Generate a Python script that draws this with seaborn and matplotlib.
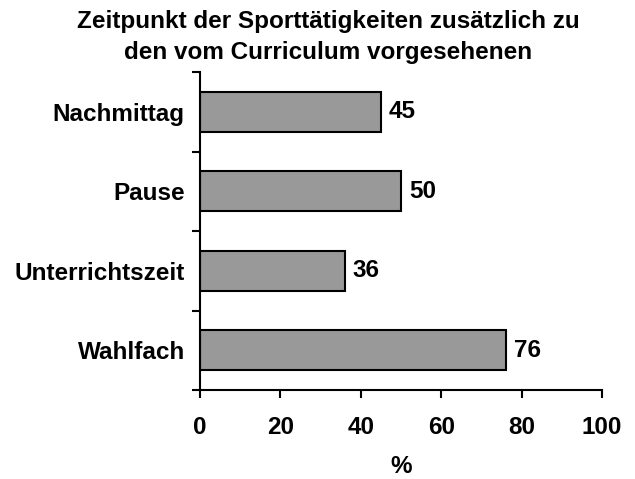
import matplotlib
matplotlib.use("Agg")
import matplotlib.pyplot as plt
import seaborn as sns
import pandas as pd
from matplotlib.ticker import FixedLocator

categories = ["Nachmittag", "Pause", "Unterrichtszeit", "Wahlfach"]
values = [45, 50, 36, 76]
xticks = [0, 20, 40, 60, 80, 100]
title = "Zeitpunkt der Sporttätigkeiten zusätzlich zu\nden vom Curriculum vorgesehenen"

sns.set_theme(style="white")
plt.rcParams['font.family'] = ['Liberation Sans', 'DejaVu Sans']
plt.rcParams['text.color'] = 'black'
plt.rcParams['xtick.color'] = 'black'
plt.rcParams['ytick.color'] = 'black'
plt.rcParams['axes.labelcolor'] = 'black'

FS = 17.5

df = pd.DataFrame({"cat": categories, "val": values})

fig = plt.figure(figsize=(6.35, 4.79), dpi=100)
ax = fig.add_axes([200/635, 1-390/479, 402/635, 318/479])

sns.barplot(data=df, x="val", y="cat", orient="h", color="#999999",
            edgecolor="black", linewidth=1.5, width=0.5, ax=ax, saturation=1)

for i, v in enumerate(values):
    ax.text(v + 2, i, str(v), va="center", ha="left", fontsize=FS,
            fontweight="bold", color="black")

ax.set_xlim(0, 100)
ax.set_ylim(3.5, -0.5)
ax.set_xticks(xticks)
ax.set_xticklabels([str(t) for t in xticks], fontsize=FS, fontweight="bold")
ax.set_yticks(range(len(categories)))
ax.set_yticklabels(categories, fontsize=FS, fontweight="bold")
ax.yaxis.set_minor_locator(FixedLocator([-0.5, 0.5, 1.5, 2.5, 3.5]))
ax.tick_params(axis="y", which="major", length=0, pad=11)
ax.tick_params(axis="y", which="minor", length=6, width=1.5, color="black", left=True)
ax.tick_params(axis="x", which="major", length=6, width=1.5, color="black",
               bottom=True, direction="out", pad=13)
ax.set_xlabel("%", fontsize=FS, fontweight="bold", labelpad=11)
ax.set_ylabel("")
for s in ["top", "right"]:
    ax.spines[s].set_visible(False)
for s in ["left", "bottom"]:
    ax.spines[s].set_color("black")
    ax.spines[s].set_linewidth(1.5)

fig.text(328/635, 1-37/479, title, fontsize=FS, fontweight="bold",
         ha="center", va="center", linespacing=1.45)

fig.savefig("out.png", dpi=100, facecolor="white")
